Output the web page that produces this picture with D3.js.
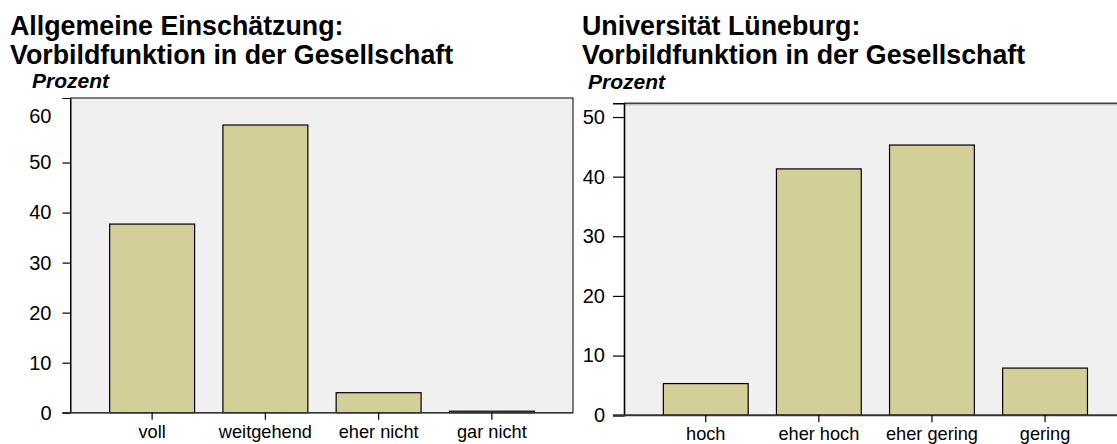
<!DOCTYPE html>
<html>
<head>
<meta charset="utf-8">
<script src="https://cdn.jsdelivr.net/npm/d3@7"></script>
<style>
  html, body { margin: 0; padding: 0; background: #ffffff; }
  svg { display: block; font-family: "Liberation Sans", Arial, sans-serif; }
</style>
</head>
<body>
<svg id="chart" width="1117" height="444"></svg>
<script>
// ---- data ----
const leftTitle = ["Allgemeine Einschätzung:", "Vorbildfunktion in der Gesellschaft"];
const leftCategories = ["voll", "weitgehend", "eher nicht", "gar nicht"];
const leftValues = [37.7, 57.5, 4.0, 0.3];
const leftTicks = [0, 10, 20, 30, 40, 50, 60];

const rightTitle = ["Universität Lüneburg:", "Vorbildfunktion in der Gesellschaft"];
const rightCategories = ["hoch", "eher hoch", "eher gering", "gering"];
const rightValues = [5.3, 41.3, 45.3, 7.9];
const rightTicks = [0, 10, 20, 30, 40, 50];

const yAxisLabel = "Prozent";

// ---- styles ----
const barFill = "#d3cf98";
const plotFill = "#f0f0f0";
const svg = d3.select("#chart");

function drawPanel(cfg) {
  const g = svg.append("g");
  const y = d3.scaleLinear().domain([0, cfg.yMax]).range([cfg.bottom, cfg.top]);
  const x = d3.scaleBand().domain(cfg.categories).range(cfg.bandRange)
    .paddingInner(0.25).paddingOuter(0.125);

  // titles
  g.append("text").attr("x", cfg.titleX).attr("y", 35)
    .attr("font-size", 26.8).attr("font-weight", "bold").attr("fill", "#000")
    .text(cfg.title[0]);
  g.append("text").attr("x", cfg.titleX).attr("y", 63.5)
    .attr("font-size", 26.8).attr("font-weight", "bold").attr("fill", "#000")
    .text(cfg.title[1]);
  g.append("text").attr("x", cfg.prozentX).attr("y", cfg.prozentY)
    .attr("font-size", 21).attr("font-weight", "bold").attr("font-style", "italic")
    .attr("fill", "#000").text(yAxisLabel);

  // plot background
  g.append("rect").attr("x", cfg.left).attr("y", cfg.top)
    .attr("width", cfg.right - cfg.left).attr("height", cfg.bottom - cfg.top)
    .attr("fill", plotFill)
    .attr("stroke", cfg.fullFrame ? "#000" : "none").attr("stroke-width", 1);

  if (!cfg.fullFrame) {
    g.append("line").attr("x1", cfg.left).attr("x2", cfg.right)
      .attr("y1", cfg.top).attr("y2", cfg.top)
      .attr("stroke", "#444").attr("stroke-width", 1.5);
    g.append("line").attr("x1", cfg.left).attr("x2", cfg.right)
      .attr("y1", cfg.top + 1.5).attr("y2", cfg.top + 1.5)
      .attr("stroke", "#aaa").attr("stroke-width", 1);
  }

  // bars
  g.selectAll("rect.bar").data(cfg.values).enter().append("rect")
    .attr("class", "bar")
    .attr("x", (d, i) => x(cfg.categories[i]))
    .attr("y", d => y(d))
    .attr("width", x.bandwidth())
    .attr("height", d => y(0) - y(d))
    .attr("fill", barFill).attr("stroke", "#000").attr("stroke-width", 1.2);

  // y axis
  const yAxis = d3.axisLeft(y).tickValues(cfg.ticks).tickSize(cfg.tickLen).tickPadding(cfg.tickPad)
    .tickFormat(d3.format("d"));
  const ya = g.append("g").attr("transform", `translate(${cfg.left},0)`).call(yAxis);
  ya.select(".domain").attr("stroke", "#000").attr("stroke-width", cfg.fullFrame ? 1 : 1.6);
  ya.selectAll(".tick line").attr("stroke", "#000").attr("stroke-width", 1.2)
    .attr("opacity", d => cfg.hideTickAt.includes(d) ? 0 : 1);
  ya.selectAll(".tick text").attr("font-size", 20).attr("fill", "#000")
    .attr("dy", d => cfg.hideTickAt.includes(d) ? "0.52em" : "0.32em")
    .attr("font-family", "Liberation Sans, Arial, sans-serif");

  // baseline
  g.append("line").attr("x1", cfg.left - cfg.tickLen).attr("x2", cfg.right)
    .attr("y1", y(0)).attr("y2", y(0))
    .attr("stroke", cfg.baseColor).attr("stroke-width", cfg.baseWidth);

  // x axis
  const xAxis = d3.axisBottom(x).tickSize(7).tickPadding(5);
  const xa = g.append("g").attr("transform", `translate(0,${y(0)})`).call(xAxis);
  xa.select(".domain").remove();
  xa.selectAll(".tick line").attr("stroke", "#000").attr("stroke-width", 1.2);
  xa.selectAll(".tick text").attr("font-size", 18.2).attr("fill", "#000")
    .attr("font-family", "Liberation Sans, Arial, sans-serif");
}

drawPanel({
  title: leftTitle, categories: leftCategories, values: leftValues, ticks: leftTicks,
  titleX: 10, prozentX: 32, prozentY: 88,
  left: 70.5, right: 573, top: 98, bottom: 412.7, yMax: 62.9,
  bandRange: [95.5, 548.5], tickLen: 8, tickPad: 11, hideTickAt: [60],
  fullFrame: true, baseColor: "#333", baseWidth: 1.5
});

drawPanel({
  title: rightTitle, categories: rightCategories, values: rightValues, ticks: rightTicks,
  titleX: 582, prozentX: 588, prozentY: 89,
  left: 624, right: 1117, top: 103.3, bottom: 415.2, yMax: 52.3,
  bandRange: [649.2, 1101.6], tickLen: 11, tickPad: 8, hideTickAt: [],
  fullFrame: false, baseColor: "#333", baseWidth: 2
});
</script>
</body>
</html>
